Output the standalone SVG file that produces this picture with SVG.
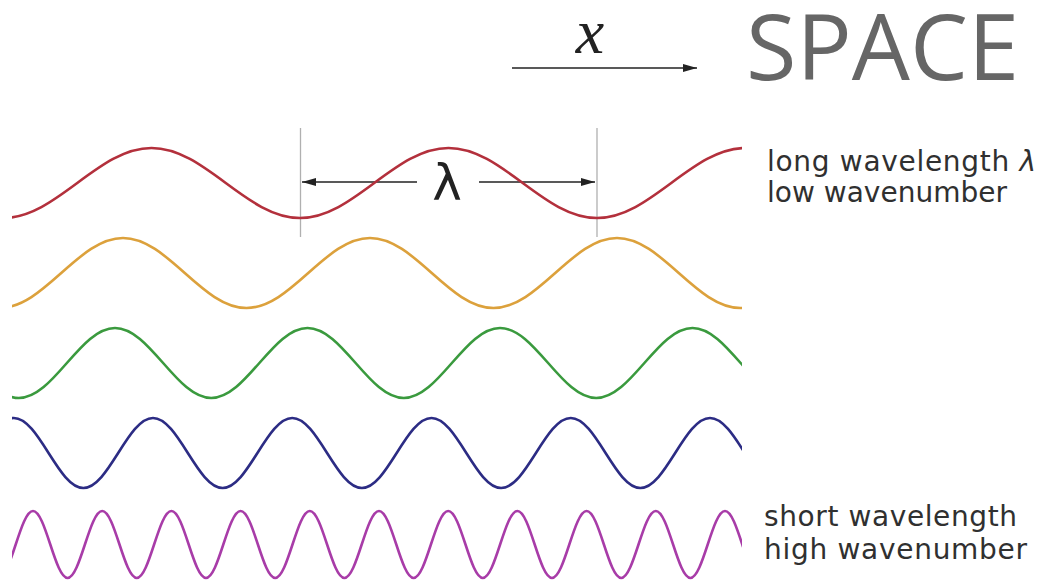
<svg xmlns="http://www.w3.org/2000/svg" width="1055" height="582" viewBox="0 0 1055 582">
  <style>
    .wave { fill: none; stroke-width: 2.6; stroke-linecap: butt; }
    .guide { stroke: #b0b0b0; stroke-width: 1.3; fill: none; }
    .arrow { stroke: #222; stroke-width: 1.6; fill: none; }
    .label { font-family: "DejaVu Sans", Verdana, sans-serif; font-size: 28px; fill: #303030; }
  </style>
  <defs>
    <clipPath id="waveClip">
      <rect x="12" y="0" width="730" height="582"/>
    </clipPath>
    <marker id="head" viewBox="0 0 14 8" refX="14" refY="4" markerWidth="14" markerHeight="8" markerUnits="userSpaceOnUse" orient="auto">
      <path d="M0 0 L14 4 L0 8 z" fill="#222"/>
    </marker>
  </defs>
  <rect x="0" y="0" width="1055" height="582" fill="#ffffff"/>

  <g id="title">
    <text x="590" y="53" text-anchor="middle" font-family="Liberation Serif, serif" font-style="italic" font-size="64" fill="#222">x</text>
    <text x="746" y="80" font-family="Open Sans, sans-serif" font-size="92" fill="#666">SPACE</text>
  </g>

  <g id="connectors">
    <path class="arrow" d="M512 68 L697 68" marker-end="url(#head)"/>
    <path class="guide" d="M300.5 128 L300.5 237"/>
    <path class="guide" d="M597 128 L597 237"/>
    <path class="arrow" d="M417 182 L302 182" marker-end="url(#head)"/>
    <path class="arrow" d="M479 182 L595 182" marker-end="url(#head)"/>
  </g>

  <g id="lambda">
    <text x="447" y="200" text-anchor="middle" font-family="DejaVu Sans, sans-serif" font-size="50" fill="#222">λ</text>
  </g>

  <g id="waves" clip-path="url(#waveClip)">
    <path id="wave-red" class="wave" stroke="#b3303c" d="M3 218 C56.97 218 97.53 148 151.5 148 S246.03 218 300 218 S394.53 148 448.5 148 S543.03 218 597 218 S691.53 148 745.5 148"/>
    <path id="wave-orange" class="wave" stroke="#dca13c" d="M-0.5 308 C44.38 308 78.12 238 123 238 S201.62 308 246.5 308 S325.12 238 370 238 S448.62 308 493.5 308 S572.12 238 617 238 S695.62 308 740.5 308 S819.12 238 864 238"/>
    <path id="wave-green" class="wave" stroke="#3a9a3e" d="M-77.5 328 C-42.52 328 -16.23 398 18.75 398 S80.02 328 115 328 S176.27 398 211.25 398 S272.52 328 307.5 328 S368.77 398 403.75 398 S465.02 328 500 328 S561.27 398 596.25 398 S657.52 328 692.5 328 S753.77 398 788.75 398"/>
    <path id="wave-blue" class="wave" stroke="#2c2c84" d="M-55.875 488 C-30.575 488 -11.55 418 13.75 418 S58.075 488 83.375 488 S127.7 418 153 418 S197.325 488 222.625 488 S266.95 418 292.25 418 S336.575 488 361.875 488 S406.2 418 431.5 418 S475.825 488 501.125 488 S545.45 418 570.75 418 S615.075 488 640.375 488 S684.7 418 710 418 S754.325 488 779.625 488"/>
    <path id="wave-magenta" class="wave" stroke="#a83ca8" d="M-1.6 578 C10.97 578 20.43 511 33 511 S55.03 578 67.6 578 S89.63 511 102.2 511 S124.23 578 136.8 578 S158.83 511 171.4 511 S193.43 578 206 578 S228.03 511 240.6 511 S262.63 578 275.2 578 S297.23 511 309.8 511 S331.83 578 344.4 578 S366.43 511 379 511 S401.03 578 413.6 578 S435.63 511 448.2 511 S470.23 578 482.8 578 S504.83 511 517.4 511 S539.43 578 552 578 S574.03 511 586.6 511 S608.63 578 621.2 578 S643.23 511 655.8 511 S677.83 578 690.4 578 S712.43 511 725 511 S747.03 578 759.6 578"/>
  </g>

  <g id="label-long">
    <text class="label" x="767" y="171" textLength="269" lengthAdjust="spacing">long wavelength <tspan font-style="italic">λ</tspan></text>
    <text class="label" x="767" y="202" textLength="240" lengthAdjust="spacing">low wavenumber</text>
  </g>
  <g id="label-short">
    <text class="label" x="764" y="526" textLength="253" lengthAdjust="spacing">short wavelength</text>
    <text class="label" x="764" y="559" textLength="263" lengthAdjust="spacing">high wavenumber</text>
  </g>
</svg>
